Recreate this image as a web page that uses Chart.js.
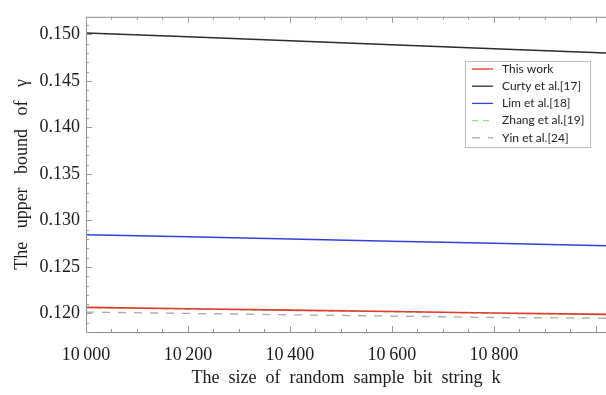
<!DOCTYPE html>
<html>
<head>
<meta charset="utf-8">
<script src="https://cdn.jsdelivr.net/npm/chart.js@4.4.1/dist/chart.umd.min.js"></script>
<style>
  body { margin: 0; background: #fff; }
</style>
</head>
<body>
<canvas id="my-chart" width="606" height="395"></canvas>
<script>
// sample bit string size k (last point sits on the cropped right edge)
const kValues = [10000, 10200, 10400, 10600, 10800, 11020]

// upper bound of gamma
const thisWork = [0.12065, 0.12050, 0.12035, 0.12020, 0.12005, 0.11990]
const curty = [0.15017, 0.14975, 0.14932, 0.14890, 0.14847, 0.14800]
const lim = [0.12847, 0.12824, 0.12801, 0.12777, 0.12754, 0.12728]
const zhang = [0.12062, 0.12047, 0.12032, 0.12017, 0.12002, 0.11987]
const yin = [0.12014, 0.12000, 0.11985, 0.11971, 0.11956, 0.11948]

const xTicks = [10000, 10200, 10400, 10600, 10800]
const yTicks = [0.120, 0.125, 0.130, 0.135, 0.140, 0.145, 0.150]

const serif = "'Liberation Serif', 'Times New Roman', serif"

function toPoints(values) {
  return values.map((v, i) => ({ x: kValues[i], y: v }))
}

// frame with inward ticks, like the original plot
const framePlugin = {
  id: "frame",
  afterDraw(chart) {
    const { ctx, chartArea: a, scales } = chart
    const x = scales.x, y = scales.y
    ctx.save()
    ctx.strokeStyle = "#8a8a8a"
    ctx.lineWidth = 1
    ctx.beginPath()
    ctx.moveTo(a.left + 0.5, a.top + 0.5)
    ctx.lineTo(a.left + 0.5, a.bottom + 0.5)
    ctx.moveTo(a.left, a.top + 0.5)
    ctx.lineTo(a.right, a.top + 0.5)
    ctx.moveTo(a.left, a.bottom + 0.5)
    ctx.lineTo(a.right, a.bottom + 0.5)
    ctx.stroke()

    ctx.strokeStyle = "#999"
    ctx.beginPath()
    for (let k = 10000; k <= 11000; k += 50) {
      const px = Math.round(x.getPixelForValue(k)) + 0.5
      const len = k % 200 === 0 ? 6 : 3
      ctx.moveTo(px, a.bottom)
      ctx.lineTo(px, a.bottom - len)
      ctx.moveTo(px, a.top)
      ctx.lineTo(px, a.top + len)
    }
    for (let i = 118; i <= 151; i++) {
      const py = Math.round(y.getPixelForValue(i / 1000)) + 0.5
      const len = i % 5 === 0 ? 6 : 3
      ctx.moveTo(a.left, py)
      ctx.lineTo(a.left + len, py)
    }
    ctx.stroke()
    ctx.restore()
  }
}

// legend box inside the plot area
const legendPlugin = {
  id: "boxLegend",
  afterDraw(chart) {
    const ctx = chart.ctx
    const left = 465, top = 61, w = 125, h = 86
    ctx.save()
    ctx.fillStyle = "#fff"
    ctx.fillRect(left, top, w, h)
    ctx.strokeStyle = "#bdbdbd"
    ctx.lineWidth = 1
    ctx.strokeRect(left + 0.5, top + 0.5, w, h)
    ctx.font = "12px Lato, 'Open Sans', sans-serif"
    ctx.textBaseline = "middle"
    chart.data.datasets.forEach((ds, i) => {
      const rowY = top + 8 + i * 17.2
      ctx.strokeStyle = ds.borderColor
      ctx.lineWidth = 1.3
      ctx.setLineDash(ds.borderDash || [])
      ctx.beginPath()
      ctx.moveTo(472, rowY)
      ctx.lineTo(493, rowY)
      ctx.stroke()
      ctx.setLineDash([])
      ctx.fillStyle = "#222"
      ctx.fillText(ds.label, 502, rowY)
    })
    ctx.restore()
  }
}

const ctx = document.getElementById("my-chart").getContext("2d")
const chart = new Chart(ctx, {
  type: "line",
  data: {
    datasets: [
      { label: "This work", data: toPoints(thisWork), borderColor: "#e2392b", borderWidth: 1.6, order: 1 },
      { label: "Curty et al.[17]", data: toPoints(curty), borderColor: "#2b2b2b", borderWidth: 1.5, order: 2 },
      { label: "Lim et al.[18]", data: toPoints(lim), borderColor: "#3340d8", borderWidth: 1.5, order: 3 },
      { label: "Zhang et al.[19]", data: toPoints(zhang), borderColor: "#8fe07f", borderWidth: 1.3, borderDash: [6, 5], order: 4 },
      { label: "Yin et al.[24]", data: toPoints(yin), borderColor: "#a9a9a9", borderWidth: 1.3, borderDash: [8, 8], order: 5 },
    ],
  },
  options: {
    responsive: false,
    animation: false,
    parsing: false,
    layout: { padding: { top: 6, left: 0, right: 0, bottom: 0 } },
    elements: { point: { radius: 0 }, line: { tension: 0 } },
    plugins: { legend: { display: false }, tooltip: { enabled: false } },
    scales: {
      x: {
        type: "linear",
        min: 10000,
        max: 11020,
        afterBuildTicks: (s) => { s.ticks = xTicks.map((v) => ({ value: v })) },
        afterFit: (s) => { s.height = 63 },
        grid: { display: false, drawTicks: false },
        border: { display: false },
        ticks: {
          color: "#1a1a1a",
          font: { family: serif, size: 18 },
          padding: 12,
          maxRotation: 0,
          autoSkip: false,
          callback: (v) => String(v).replace(/^(\d+)(\d{3})$/, "$1\u2009$2"),
        },
        title: {
          display: true,
          text: "The  size  of  random  sample  bit  string  k",
          color: "#1a1a1a",
          font: { family: serif, size: 18 },
          padding: { top: 0, bottom: 6 },
        },
      },
      y: {
        min: 0.118,
        max: 0.1519,
        afterBuildTicks: (s) => { s.ticks = yTicks.map((v) => ({ value: v })) },
        afterFit: (s) => { s.width = 86 },
        grid: { display: false, drawTicks: false },
        border: { display: false },
        ticks: {
          color: "#1a1a1a",
          font: { family: serif, size: 18 },
          padding: 6,
          callback: (v) => v.toFixed(3),
        },
        title: {
          display: true,
          text: "The   upper   bound   of   \u03b3",
          color: "#1a1a1a",
          font: { family: serif, size: 18 },
          padding: { top: 11, bottom: 0 },
        },
      },
    },
  },
  plugins: [framePlugin, legendPlugin],
})
</script>
</body>
</html>
